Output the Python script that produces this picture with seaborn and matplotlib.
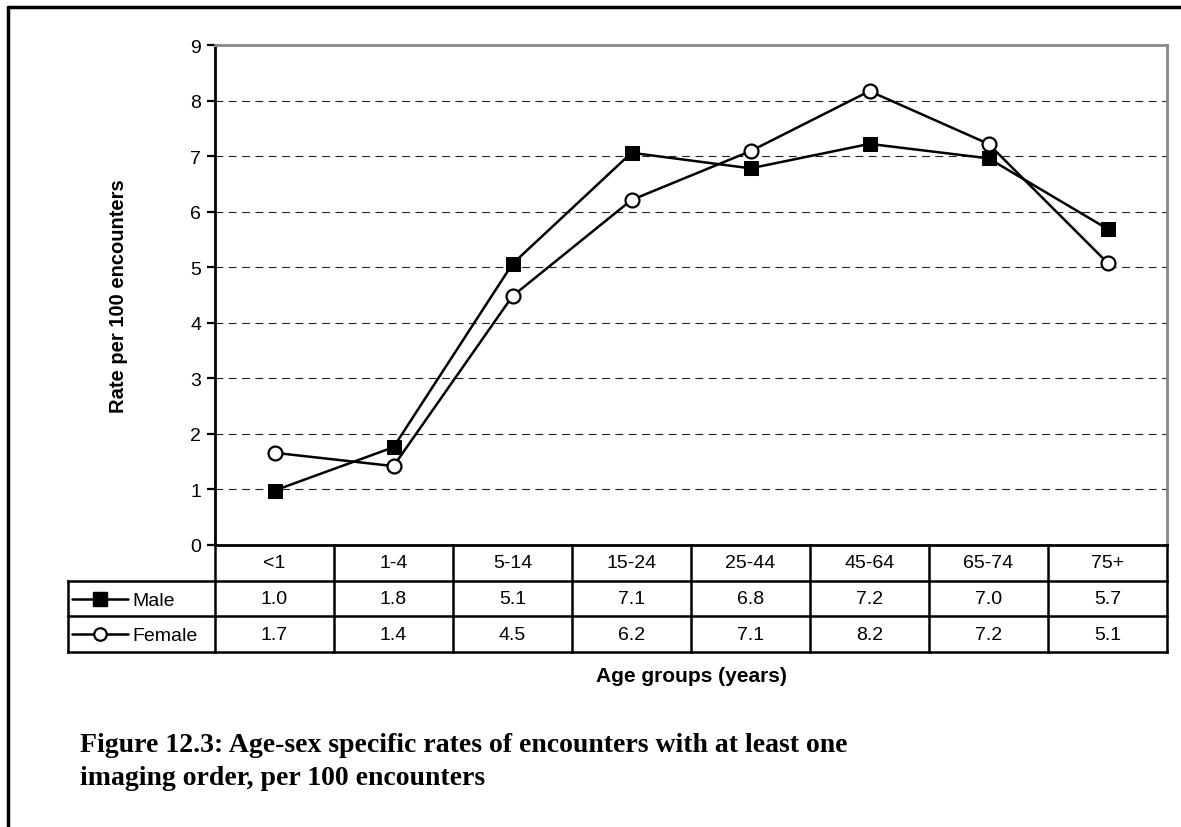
import matplotlib
matplotlib.use("Agg")
import matplotlib.pyplot as plt
from matplotlib.lines import Line2D
import seaborn as sns
import pandas as pd

# Data
age_groups = ["<1", "1-4", "5-14", "15-24", "25-44", "45-64", "65-74", "75+"]
male_rate = [0.98, 1.76, 5.06, 7.06, 6.78, 7.22, 6.96, 5.69]
female_rate = [1.66, 1.42, 4.48, 6.21, 7.09, 8.17, 7.22, 5.08]
y_ticks = list(range(0, 10))

caption = ("Figure 12.3: Age-sex specific rates of encounters with at least one\n"
           "imaging order, per 100 encounters")

sns.set_style("white")
plt.rcParams["font.family"] = ["Liberation Sans", "DejaVu Sans"]
plt.rcParams["text.color"] = "black"
plt.rcParams["axes.labelcolor"] = "black"
plt.rcParams["ytick.color"] = "black"
plt.rcParams["xtick.color"] = "black"

W, H = 1181, 828
fig = plt.figure(figsize=(W / 100, H / 100), dpi=100)

# pixel layout
left, right, top, bottom = 215, 1167, 46, 546
tab_bottom = 653
col_w = (right - left) / len(age_groups)
fs = 14


def px_box(x0, y0, x1, y1):
    return [x0 / W, 1 - y1 / H, (x1 - x0) / W, (y1 - y0) / H]


ax = fig.add_axes(px_box(left, top, right, bottom))

df = pd.DataFrame({"age": age_groups, "Male": male_rate, "Female": female_rate})

sns.lineplot(data=df, x="age", y="Female", ax=ax, color="black", lw=1.8,
             marker="o", markersize=10, markerfacecolor="white",
             markeredgecolor="black", markeredgewidth=1.6, zorder=4)
sns.lineplot(data=df, x="age", y="Male", ax=ax, color="black", lw=1.8,
             marker="s", markersize=10.5, markerfacecolor="black",
             markeredgecolor="black", zorder=5)

ax.set_xlim(-0.5, len(age_groups) - 0.5)
ax.set_ylim(0, 9)
ax.set_yticks(y_ticks)
ax.set_xticks([])
ax.set_xlabel("")
ax.tick_params(axis="y", direction="out", length=6, width=1.6, labelsize=fs,
               pad=4, left=True)
ax.set_axisbelow(True)
for v in y_ticks[1:-1]:
    ax.axhline(v, color="#222222", lw=0.8, ls=(0, (7, 5)), zorder=1)

for side in ["top", "right"]:
    ax.spines[side].set_color("#888888")
    ax.spines[side].set_linewidth(2)
ax.spines["left"].set_color("black")
ax.spines["left"].set_linewidth(2)
ax.spines["bottom"].set_color("black")
ax.spines["bottom"].set_linewidth(2)

ax.set_ylabel("Rate per 100 encounters", fontsize=14.5, fontweight="bold")
ax.yaxis.set_label_coords((128 - left) / (right - left), 0.5)

# data table below the plot, sharing the category positions
tab = fig.add_axes(px_box(left, bottom, right, tab_bottom))
tab.set_xlim(-0.5, len(age_groups) - 0.5)
tab.set_ylim(0, 3)
tab.axis("off")

lbl_left = -0.5 - (left - 68) / col_w
lw_tab = 1.8
for k in range(len(age_groups) + 1):
    tab.plot([k - 0.5, k - 0.5], [0, 3], color="black", lw=lw_tab,
             clip_on=False, solid_capstyle="projecting")
tab.plot([lbl_left, lbl_left], [0, 2], color="black", lw=lw_tab, clip_on=False,
         solid_capstyle="projecting")
for yy in [0, 1, 2]:
    tab.plot([lbl_left, len(age_groups) - 0.5], [yy, yy], color="black",
             lw=lw_tab, clip_on=False, solid_capstyle="projecting")

for i, g in enumerate(age_groups):
    tab.text(i, 2.5, g, ha="center", va="center", fontsize=fs)
    tab.text(i, 1.5, f"{male_rate[i]:.1f}", ha="center", va="center", fontsize=fs)
    tab.text(i, 0.5, f"{female_rate[i]:.1f}", ha="center", va="center", fontsize=fs)


def px2x(px):
    return -0.5 + (px - left) / col_w


tab.plot([px2x(72), px2x(128)], [1.5, 1.5], color="black", lw=1.8, clip_on=False)
tab.plot([px2x(100)], [1.5], marker="s", markersize=10, color="black", clip_on=False)
tab.text(px2x(132), 1.45, "Male", ha="left", va="center", fontsize=fs)
tab.plot([px2x(72), px2x(128)], [0.5, 0.5], color="black", lw=1.8, clip_on=False)
tab.plot([px2x(100)], [0.5], marker="o", markersize=9, markerfacecolor="white",
         markeredgecolor="black", markeredgewidth=1.6, clip_on=False)
tab.text(px2x(132), 0.45, "Female", ha="left", va="center", fontsize=fs)

fig.text((left + right) / 2 / W, 1 - 677 / H, "Age groups (years)",
         ha="center", va="center", fontsize=15, fontweight="bold")

fig.text(80 / W, 1 - 762 / H, caption, ha="left", va="center",
         fontsize=20, fontweight="bold", family=["Liberation Serif"],
         linespacing=1.45)

# outer frame (top and left edges only visible)
fig.add_artist(Line2D([8 / W, 1], [1 - 8 / H, 1 - 8 / H], color="black", lw=2.5,
                      transform=fig.transFigure))
fig.add_artist(Line2D([8 / W, 8 / W], [0, 1 - 8 / H], color="black", lw=2.5,
                      transform=fig.transFigure))

fig.savefig("out.png", dpi=100)
